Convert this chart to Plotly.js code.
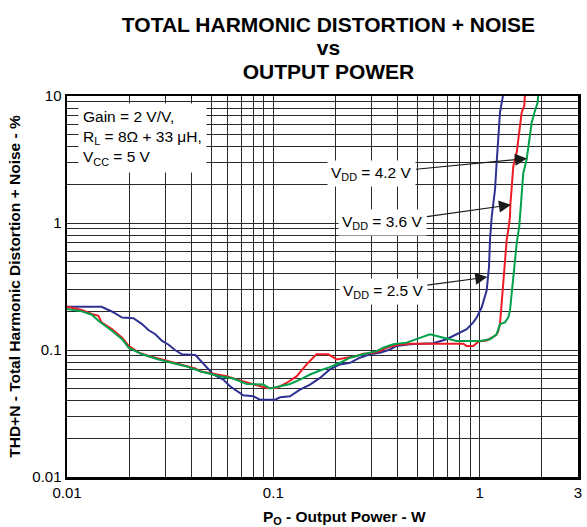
<!DOCTYPE html>
<html>
<head>
<meta charset="utf-8">
<script src="https://cdn.plot.ly/plotly-3.0.1.min.js"></script>
<style>html,body{margin:0;padding:0;background:#fff;}#chart{width:587px;height:527px;}</style>
</head>
<body>
<div id="chart"></div>
<script>
// ---- data ----
var seriesNames = ['V<sub>DD</sub> = 2.5 V', 'V<sub>DD</sub> = 3.6 V', 'V<sub>DD</sub> = 4.2 V'];

var pw25 = [0.0100,0.0147,0.0165,0.0185,0.0210,0.0231,0.0249,0.0268,0.0289,0.0311,0.0335,0.0361,0.0419,0.0445,0.0512,0.0572,0.0617,0.0715,0.0800,0.0862,0.102,0.108,0.1205,0.1347,0.1507,0.1684,0.188,0.2106,0.2354,0.263,0.294,0.329,0.368,0.396,0.460,0.597,0.692,0.774,0.866,0.932,0.968,1.024,1.082,1.111,1.123,1.145,1.165,1.188,1.21,1.232,1.256,1.303];
var thd25 = [0.219,0.219,0.201,0.180,0.178,0.160,0.143,0.133,0.118,0.110,0.0995,0.0925,0.0912,0.082,0.0641,0.0585,0.0518,0.0440,0.0432,0.0406,0.0406,0.0424,0.0432,0.0488,0.0534,0.0603,0.0703,0.077,0.0793,0.087,0.0925,0.0953,0.101,0.1076,0.111,0.113,0.1216,0.133,0.146,0.165,0.180,0.217,0.294,0.45,0.733,1.12,1.39,1.83,2.98,4.56,7.43,10.4];

var pw36 = [0.0100,0.0118,0.0132,0.0142,0.0147,0.0165,0.0185,0.0199,0.0223,0.0249,0.0289,0.0335,0.0389,0.0419,0.0441,0.0512,0.0594,0.0665,0.0800,0.0929,0.1039,0.116,0.130,0.145,0.162,0.1848,0.203,0.2268,0.2536,0.273,0.305,0.329,0.355,0.396,0.460,0.834,0.866,0.932,0.986,1.082,1.165,1.21,1.232,1.256,1.28,1.303,1.328,1.353,1.377,1.404,1.41,1.431,1.457,1.513,1.540,1.570,1.600,1.647,1.66];
var thd36 = [0.219,0.2065,0.192,0.186,0.165,0.146,0.125,0.1076,0.0953,0.0896,0.0843,0.0793,0.0746,0.0716,0.0681,0.0648,0.0622,0.0585,0.0534,0.0503,0.0503,0.055,0.0622,0.077,0.0925,0.0925,0.0843,0.087,0.0896,0.0936,0.0953,0.098,0.1043,0.1096,0.1122,0.1122,0.1076,0.1076,0.1164,0.119,0.1267,0.133,0.1416,0.160,0.245,0.332,0.508,0.733,0.880,1.12,1.39,2.07,2.80,3.57,4.56,6.18,7.43,8.38,10.4];

var pw42 = [0.0100,0.0118,0.0132,0.0142,0.0165,0.0185,0.0199,0.0231,0.0278,0.0323,0.0375,0.0419,0.0441,0.0551,0.0640,0.0743,0.0895,0.0964,0.1078,0.1205,0.1347,0.1507,0.1684,0.188,0.2106,0.2354,0.273,0.317,0.341,0.382,0.443,0.514,0.575,0.619,0.667,0.719,0.774,1.005,1.123,1.21,1.256,1.328,1.377,1.404,1.431,1.457,1.485,1.513,1.557,1.582,1.600,1.629,1.691,1.741,1.789,1.856,1.913,1.925];
var thd42 = [0.2104,0.2014,0.1897,0.170,0.1416,0.1216,0.1043,0.0925,0.0843,0.0793,0.0746,0.0703,0.0681,0.0622,0.0596,0.054,0.0534,0.0497,0.0518,0.054,0.0585,0.0641,0.069,0.0733,0.0793,0.087,0.0925,0.098,0.1043,0.111,0.1143,0.125,0.133,0.129,0.125,0.1216,0.1179,0.1179,0.1216,0.133,0.160,0.165,0.180,0.204,0.277,0.353,0.508,0.690,0.935,1.27,1.83,2.48,3.16,4.56,6.18,7.64,8.91,10.4];

// labelled ticks
var xTickVals = [0.01, 0.1, 1, 3];
var xTickText = ['0.01', '0.1', '1', '3'];
var yTickVals = [0.01, 0.1, 1, 10];
var yTickText = ['0.01', '0.1', '1', '10'];
// unlabelled grid lines
var xMinorVals = [0.02,0.03,0.04,0.05,0.06,0.07,0.08,0.09,0.2,0.3,0.4,0.5,0.6,0.7,0.8,0.9,2];
var yMinorVals = [0.02,0.03,0.04,0.05,0.06,0.07,0.08,0.09,0.2,0.3,0.4,0.5,0.6,0.7,0.8,0.9,2,3,4,5,6,7,8,9];

// ---- drawing ----
var FONT = 'Liberation Sans, Arial, Helvetica, sans-serif';
var colors = ['#2e3192', '#ed1c24', '#00a14b'];
var GRID = '#2a2a2a';

var traces = [
  {x: pw25, y: thd25, name: seriesNames[0]},
  {x: pw36, y: thd36, name: seriesNames[1]},
  {x: pw42, y: thd42, name: seriesNames[2]}
].map(function (t, i) {
  t.type = 'scatter'; t.mode = 'lines';
  t.line = {color: colors[i], width: 2};
  t.hoverinfo = 'skip';
  return t;
});

function arrowNote(text, tipX, tipY, ax, ay) {
  return {
    x: Math.log10(tipX), y: Math.log10(tipY), xref: 'x', yref: 'y',
    text: text, showarrow: true, ax: ax, ay: ay,
    arrowhead: 2, arrowsize: 2, arrowwidth: 1.2, arrowcolor: '#1a1a1a',
    bgcolor: '#ffffff', borderpad: 3,
    font: {family: FONT, size: 15.5, color: '#000'}
  };
}

function axisBase(vals, text, minorVals, rng) {
  return {
    type: 'log', range: rng,
    tickmode: 'array', tickvals: vals, ticktext: text, ticks: '',
    showgrid: true, gridcolor: GRID, gridwidth: 1,
    minor: {tickvals: minorVals, showgrid: true, gridcolor: GRID, gridwidth: 1, ticks: ''},
    showline: true, linecolor: '#000', linewidth: 2.5, mirror: true,
    tickfont: {family: FONT, size: 15, color: '#000'},
    zeroline: false, fixedrange: true
  };
}

var xaxis = axisBase(xTickVals, xTickText, xMinorVals, [Math.log10(0.01), Math.log10(3)]);
var yaxis = axisBase(yTickVals, yTickText, yMinorVals, [Math.log10(0.01), Math.log10(10)]);
yaxis.title = {text: '<b>THD+N - Total Harmonic Distortion + Noise - %</b>', font: {family: FONT, size: 15.5, color: '#000'}, standoff: 8};

var layout = {
  width: 587, height: 527,
  margin: {l: 67, r: 9, t: 96, b: 50},
  paper_bgcolor: '#fff', plot_bgcolor: '#fff',
  showlegend: false,
  title: {
    text: '<b><span style="font-size:21px">TOTAL HARMONIC DISTORTION + NOISE</span><br><span style="font-size:21px">vs</span><br><span style="font-size:21px">OUTPUT POWER</span></b>',
    font: {family: FONT, size: 18, color: '#000'},
    x: 0.5596, xref: 'container', xanchor: 'center',
    y: 0.9395, yref: 'container', yanchor: 'top'
  },
  xaxis: xaxis,
  yaxis: yaxis,
  annotations: [
    {
      xref: 'paper', yref: 'paper', x: 0.0215, y: 0.982, xanchor: 'left', yanchor: 'top',
      text: 'Gain = 2 V/V,<br>R<sub>L</sub> = 8Ω + 33 μH,<br>V<sub>CC</sub> = 5 V',
      showarrow: false, align: 'left', bgcolor: '#ffffff', borderpad: 4,
      font: {family: FONT, size: 15.5, color: '#000'}
    },
    arrowNote(seriesNames[2], 1.697, 3.22, -155, 15),
    arrowNote(seriesNames[1], 1.419, 1.39, -128, 18),
    arrowNote(seriesNames[0], 1.09, 0.375, -104, 14),
    {
      xref: 'paper', yref: 'paper', x: 0.544, y: -0.105, xanchor: 'center', yanchor: 'middle',
      text: '<b>P<sub>O</sub> - Output Power - W</b>', showarrow: false,
      font: {family: FONT, size: 15.5, color: '#000'}
    }
  ]
};

Plotly.newPlot('chart', traces, layout, {staticPlot: true, displayModeBar: false});
</script>
</body>
</html>
